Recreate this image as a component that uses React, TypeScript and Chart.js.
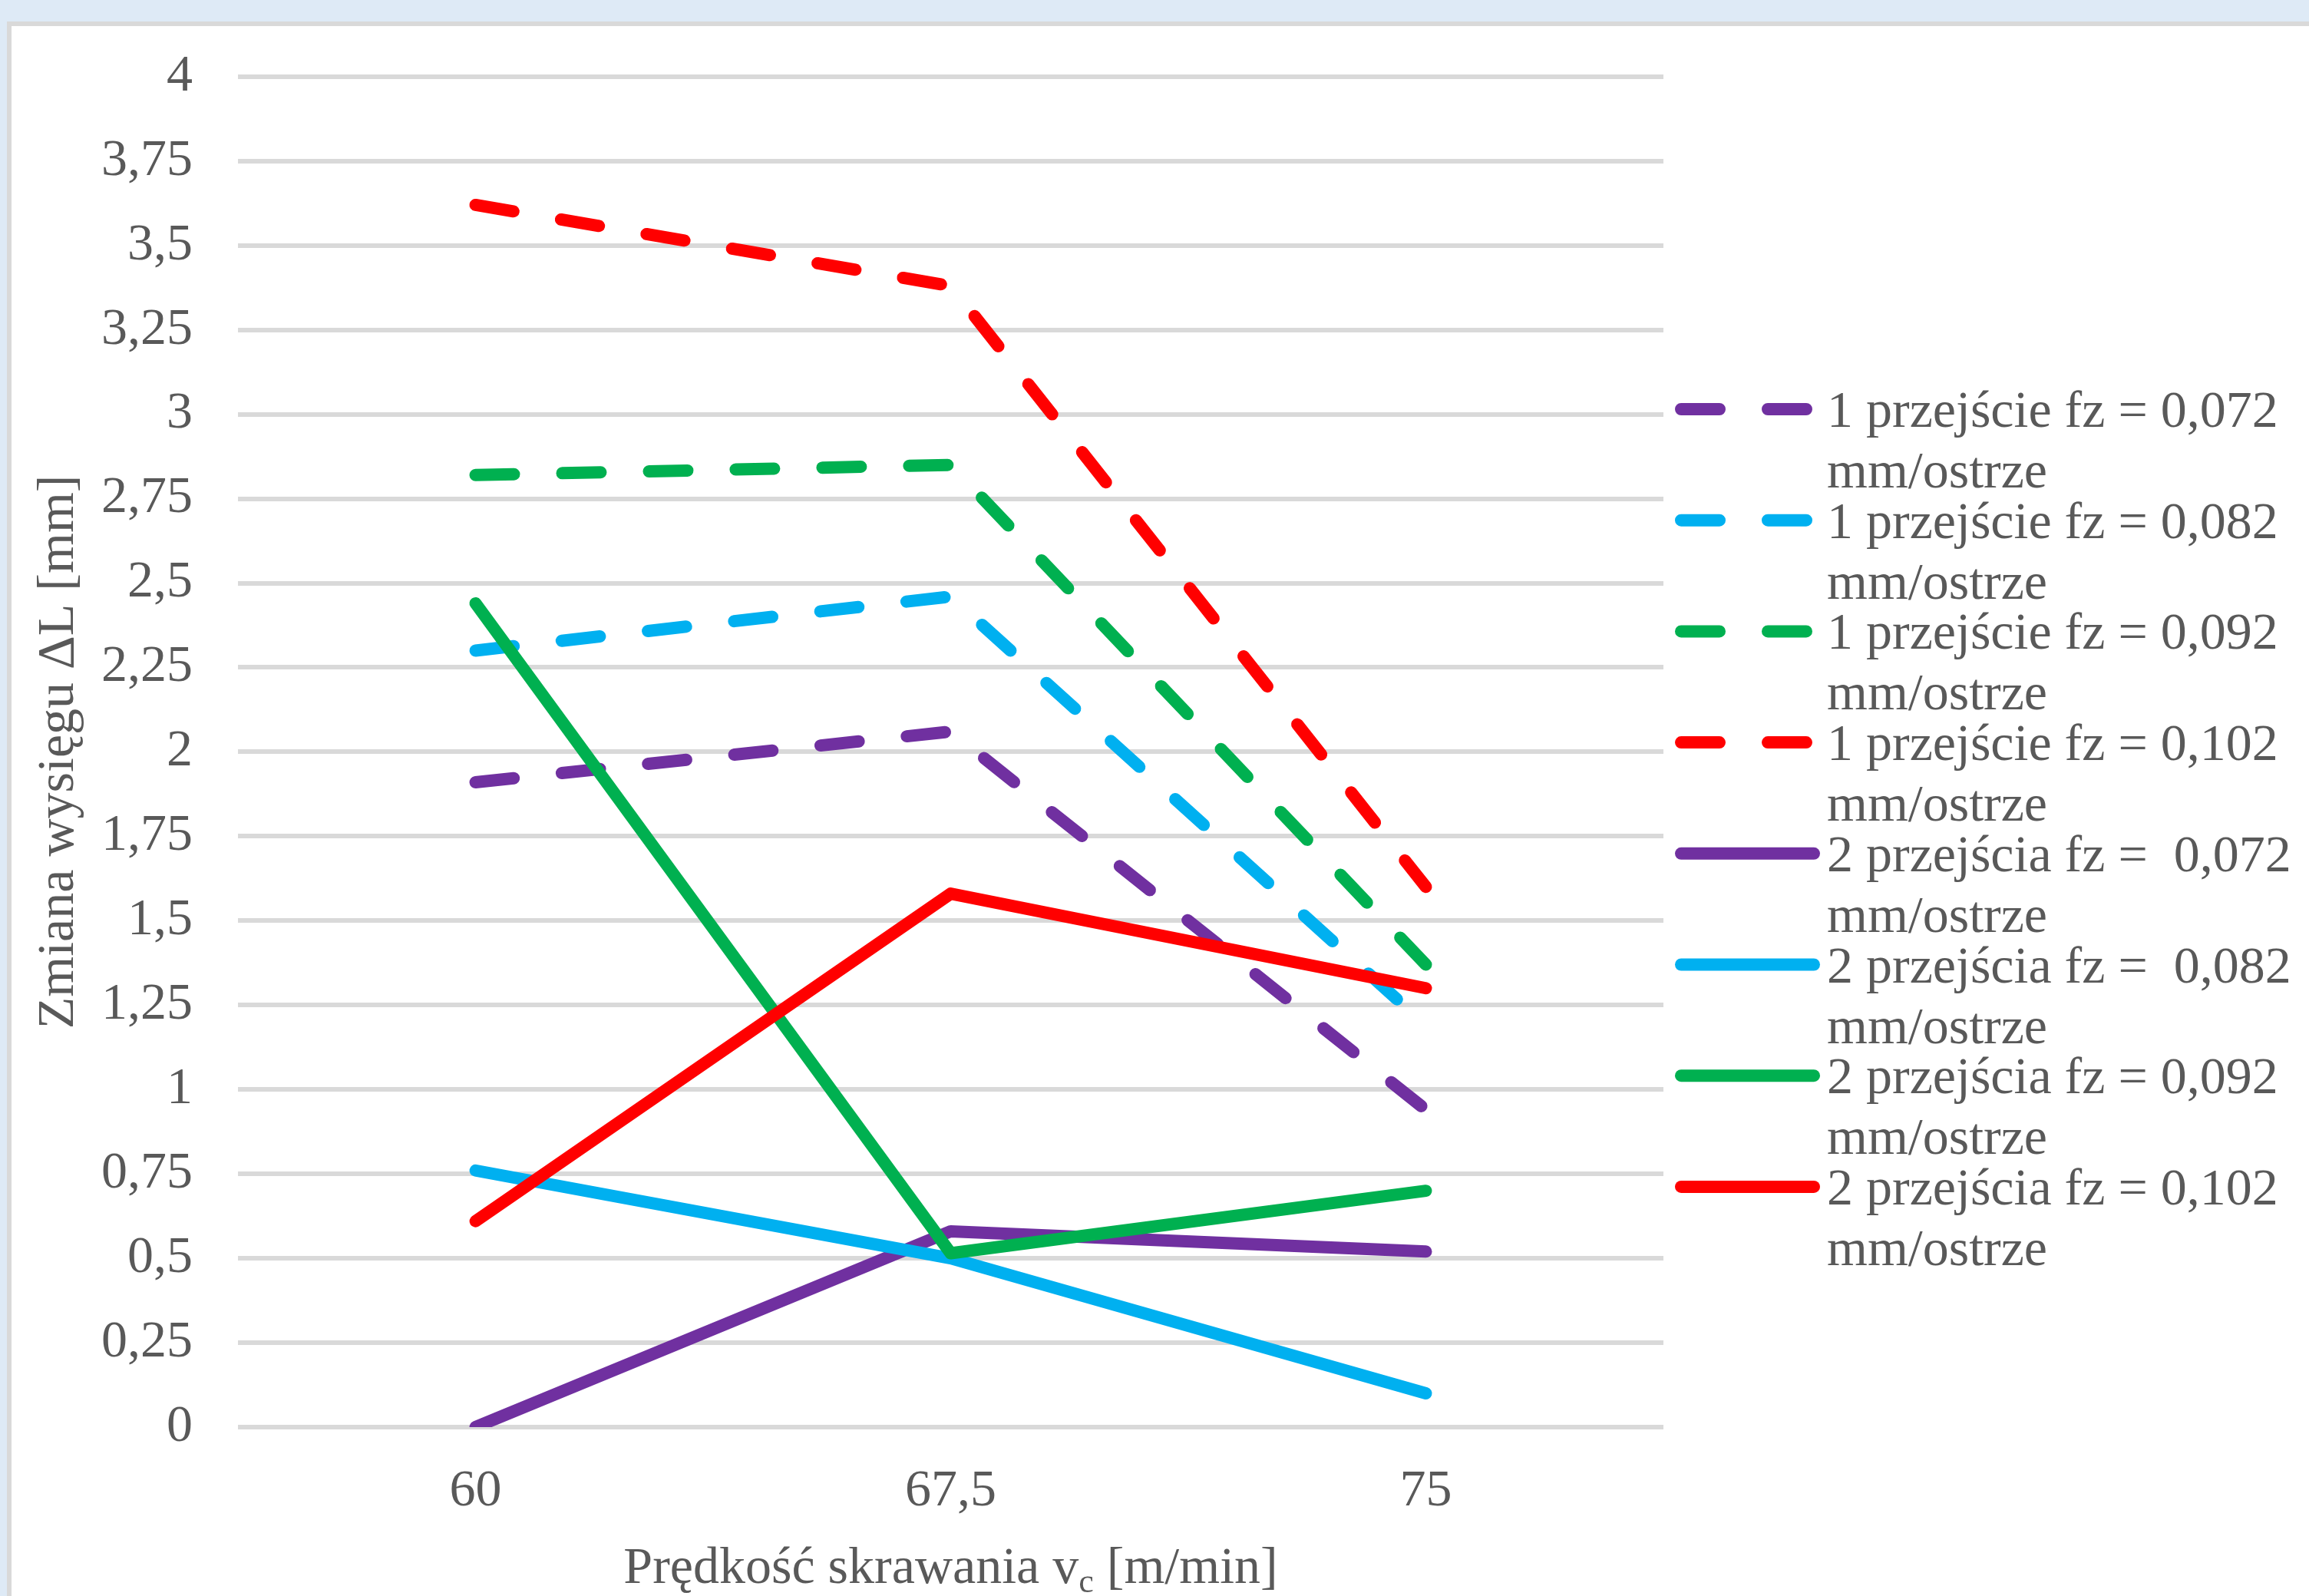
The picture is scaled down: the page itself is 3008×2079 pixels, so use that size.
import React, { useEffect, useRef } from "react";
import { Chart, registerables } from "chart.js";

Chart.register(...registerables);

// Cutting speed categories [m/min]
const categories = ["60", "67,5", "75"];

// Y axis ticks (overhang change, mm)
const yTickValues = [0, 0.25, 0.5, 0.75, 1, 1.25, 1.5, 1.75, 2, 2.25, 2.5, 2.75, 3, 3.25, 3.5, 3.75, 4];

// One pass (dashed)
const pass1Fz072 = [1.91, 2.06, 0.94];
const pass1Fz082 = [2.3, 2.46, 1.19];
const pass1Fz092 = [2.82, 2.85, 1.37];
const pass1Fz102 = [3.62, 3.38, 1.6];

// Two passes (solid)
const pass2Fz072 = [0, 0.58, 0.52];
const pass2Fz082 = [0.76, 0.5, 0.1];
const pass2Fz092 = [2.44, 0.515, 0.7];
const pass2Fz102 = [0.61, 1.58, 1.3];

const seriesLabels = [
  ["1 przejście fz = 0,072", "mm/ostrze"],
  ["1 przejście fz = 0,082", "mm/ostrze"],
  ["1 przejście fz = 0,092", "mm/ostrze"],
  ["1 przejście fz = 0,102", "mm/ostrze"],
  ["2 przejścia fz =  0,072", "mm/ostrze"],
  ["2 przejścia fz =  0,082", "mm/ostrze"],
  ["2 przejścia fz = 0,092", "mm/ostrze"],
  ["2 przejścia fz = 0,102", "mm/ostrze"],
];

const seriesValues = [
  pass1Fz072,
  pass1Fz082,
  pass1Fz092,
  pass1Fz102,
  pass2Fz072,
  pass2Fz082,
  pass2Fz092,
  pass2Fz102,
];

const seriesColors = [
  "#7030A0",
  "#00B0F0",
  "#00B050",
  "#FF0000",
  "#7030A0",
  "#00B0F0",
  "#00B050",
  "#FF0000",
];
const seriesDashed = [true, true, true, true, false, false, false, false];

const yAxisTitle = "Zmiana wysięgu ΔL [mm]";
const xAxisTitleMain = "Prędkość skrawania v";
const xAxisTitleSub = "c";
const xAxisTitleTail = " [m/min]";

const FONT_FAMILY = "'Liberation Serif', 'Times New Roman', serif";
const FONT_SIZE = 68;
const TEXT_COLOR = "#595959";
const GRID_COLOR = "#D9D9D9";
const LINE_WIDTH = 16;
const DASH = [50, 63];

const W = 3008;
const H = 2079;

// Legend to the right of the plot plus the x-axis title with a subscript
const decorPlugin = {
  id: "decor",
  afterDraw(chart: any) {
    const ctx = chart.ctx as CanvasRenderingContext2D;
    const area = chart.chartArea;
    ctx.save();

    // legend
    const swatchX0 = area.right + 23;
    const swatchX1 = area.right + 196;
    const textX = area.right + 213;
    const firstCenter = 533;
    const pitch = 144.7;
    chart.data.datasets.forEach((ds: any, i: number) => {
      const cy = firstCenter + i * pitch;
      ctx.beginPath();
      ctx.strokeStyle = ds.borderColor;
      ctx.lineWidth = ds.borderWidth;
      ctx.lineCap = "round";
      ctx.setLineDash(ds.borderDash || []);
      ctx.lineDashOffset = 0;
      ctx.moveTo(swatchX0, cy);
      ctx.lineTo(swatchX1, cy);
      ctx.stroke();
      ctx.setLineDash([]);

      ctx.fillStyle = TEXT_COLOR;
      ctx.font = `${FONT_SIZE}px ${FONT_FAMILY}`;
      ctx.textAlign = "left";
      ctx.textBaseline = "alphabetic";
      const lines = seriesLabels[i];
      lines.forEach((t, j) => {
        ctx.fillText(t, textX, cy + 23 + j * 79);
      });
    });

    // x-axis title: v with subscript c
    const mainFont = `${FONT_SIZE}px ${FONT_FAMILY}`;
    const subFont = `${Math.round(FONT_SIZE * 0.65)}px ${FONT_FAMILY}`;
    ctx.font = mainFont;
    const wMain = ctx.measureText(xAxisTitleMain).width;
    const wTail = ctx.measureText(xAxisTitleTail).width;
    ctx.font = subFont;
    const wSub = ctx.measureText(xAxisTitleSub).width;
    const total = wMain + wSub + wTail;
    const cx = (area.left + area.right) / 2;
    let x = cx - total / 2;
    const baseline = 2062;
    ctx.fillStyle = TEXT_COLOR;
    ctx.textAlign = "left";
    ctx.textBaseline = "alphabetic";
    ctx.font = mainFont;
    ctx.fillText(xAxisTitleMain, x, baseline);
    x += wMain;
    ctx.font = subFont;
    ctx.fillText(xAxisTitleSub, x, baseline + 12);
    x += wSub;
    ctx.font = mainFont;
    ctx.fillText(xAxisTitleTail, x, baseline);

    ctx.restore();
  },
};

function LineChart() {
  const canvasRef = useRef<HTMLCanvasElement | null>(null);

  useEffect(() => {
    let chart: Chart | null = null;
    let cancelled = false;

    const build = () => {
      if (cancelled || !canvasRef.current) return;
      const datasets = seriesValues.map((vals, i) => ({
        label: seriesLabels[i].join(" "),
        data: vals,
        borderColor: seriesColors[i],
        backgroundColor: seriesColors[i],
        borderWidth: LINE_WIDTH,
        borderDash: seriesDashed[i] ? DASH : [],
        borderCapStyle: "round" as const,
        borderJoinStyle: "round" as const,
        pointRadius: 0,
        pointHoverRadius: 0,
        fill: false,
        tension: 0,
        order: seriesValues.length - i,
      }));

      chart = new Chart(canvasRef.current, {
        type: "line",
        data: { labels: categories, datasets },
        options: {
          responsive: false,
          animation: false,
          devicePixelRatio: 1,
          layout: { padding: { left: 20, top: 90, right: 841, bottom: 0 } },
          plugins: {
            legend: { display: false },
            tooltip: { enabled: false },
          },
          scales: {
            x: {
              type: "category",
              offset: true,
              grid: { display: false, drawTicks: false },
              border: { display: false },
              ticks: {
                padding: 43,
                color: TEXT_COLOR,
                font: { family: FONT_FAMILY, size: FONT_SIZE },
                maxRotation: 0,
              },
              afterFit: (s: any) => {
                s.height = 220;
              },
            },
            y: {
              type: "linear",
              min: 0,
              max: 4,
              grid: { color: GRID_COLOR, lineWidth: 6, drawTicks: false },
              border: { display: false },
              ticks: {
                padding: 59,
                color: TEXT_COLOR,
                font: { family: FONT_FAMILY, size: FONT_SIZE },
                callback: (v: any) => String(v).replace(".", ","),
              },
              afterBuildTicks: (s: any) => {
                s.ticks = yTickValues.map((v) => ({ value: v }));
              },
              afterFit: (s: any) => {
                s.width = 290;
              },
              title: {
                display: true,
                text: yAxisTitle,
                color: TEXT_COLOR,
                font: { family: FONT_FAMILY, size: FONT_SIZE },
                padding: { top: 16, bottom: 0 },
              },
            },
          },
        },
        plugins: [decorPlugin],
      });
    };

    const fonts: any = (document as any).fonts;
    if (fonts && fonts.load) {
      Promise.all([
        fonts.load(`${FONT_SIZE}px "Liberation Serif"`),
        fonts.load(`44px "Liberation Serif"`),
      ])
        .catch(() => null)
        .then(build);
    } else {
      build();
    }

    return () => {
      cancelled = true;
      if (chart) chart.destroy();
    };
  }, []);

  return (
    <canvas
      ref={canvasRef}
      width={W}
      height={H}
      style={{ position: "absolute", left: 0, top: 0, width: W, height: H }}
    />
  );
}

export default function App() {
  return (
    <div
      style={{
        position: "absolute",
        left: 0,
        top: 0,
        width: W,
        height: H,
        overflow: "hidden",
        background: "#DEEAF6",
      }}
    >
      <div
        style={{
          position: "absolute",
          left: 9,
          top: 28,
          width: W + 100,
          height: H + 100,
          background: "#FFFFFF",
          borderLeft: "6px solid #D9D9D9",
          borderTop: "6px solid #D9D9D9",
        }}
      />
      <LineChart />
    </div>
  );
}
